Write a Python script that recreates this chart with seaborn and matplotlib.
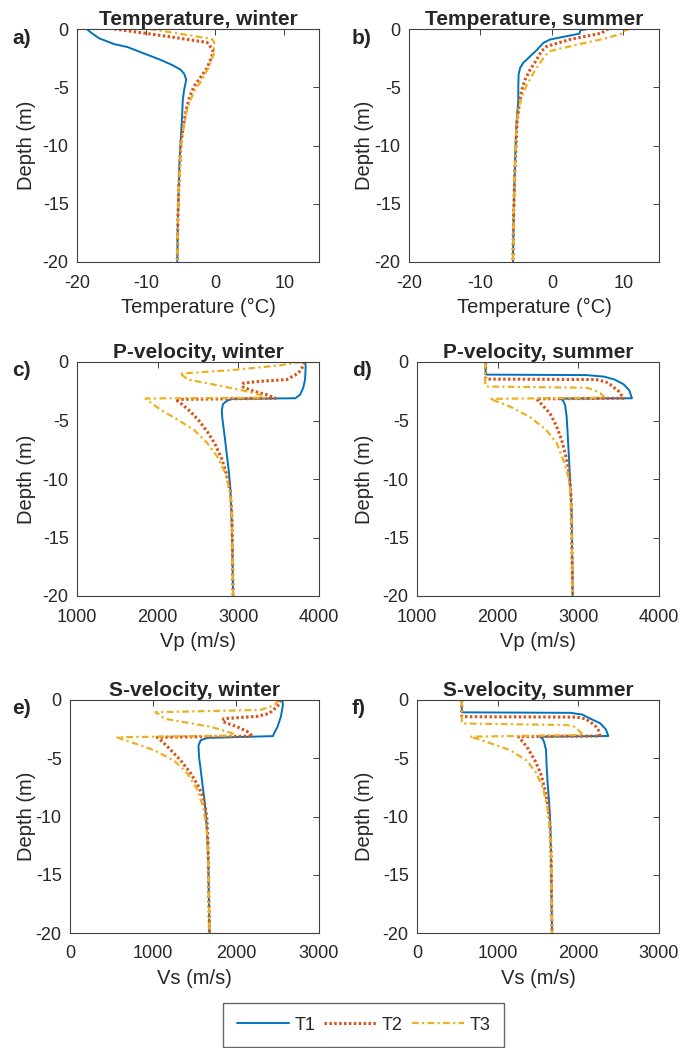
import matplotlib
matplotlib.use("Agg")
import matplotlib.pyplot as plt
import seaborn as sns

# ---- digitised profiles (depth in m, value) ----
# a) temperature, winter
tw_T1_z = [0, -0.3, -0.8, -1.3, -1.55, -2.1, -2.65, -3.1, -3.5, -3.85, -4.35, -5.2, -6.1, -7.5, -9.5, -11.8, -16, -20]
tw_T1 = [-18.6, -18.0, -16.8, -14.6, -12.7, -10.3, -7.9, -6.2, -5.0, -4.5, -4.2, -4.5, -4.7, -4.8, -5.0, -5.2, -5.4, -5.5]
tw_T2_z = [0, -0.55, -1.15, -1.8, -2.35, -3.35, -4.2, -4.95, -5.8, -6.9, -8.4, -9.8, -12.4, -16, -20]
tw_T2 = [-14.6, -7.9, -1.2, -0.35, -0.5, -1.2, -2.2, -3.1, -3.7, -4.2, -4.65, -4.95, -5.2, -5.4, -5.5]
tw_T3_z = [0, -0.85, -1.15, -2.2, -3.35, -4.35, -5.2, -6.1, -7.2, -8.7, -10.1, -12.7, -16, -20]
tw_T3 = [-9.5, -0.5, -0.15, -0.25, -1.0, -1.9, -2.9, -3.6, -4.2, -4.65, -4.95, -5.2, -5.4, -5.5]

# b) temperature, summer
ts_T1_z = [0, -0.1, -0.4, -0.9, -1.2, -1.8, -2.35, -2.9, -3.35, -3.9, -4.9, -6.1, -6.9, -8.1, -9.5, -11.3, -14.7, -20]
ts_T1 = [5.1, 4.0, 3.85, -0.25, -1.2, -2.1, -3.05, -4.0, -4.45, -4.65, -4.7, -4.7, -4.8, -4.95, -5.05, -5.15, -5.3, -5.45]
ts_T2_z = [0, -0.1, -0.35, -0.9, -1.5, -1.9, -2.65, -3.5, -4.35, -5.2, -6.4, -7.8, -9.8, -12.4, -16, -20]
ts_T2 = [7.9, 7.45, 7.0, 2.5, -0.75, -1.45, -2.15, -3.05, -3.75, -4.2, -4.55, -4.85, -5.0, -5.2, -5.35, -5.45]
ts_T3_z = [0, -0.1, -0.35, -0.85, -1.35, -1.9, -2.2, -2.9, -3.8, -4.8, -5.8, -6.9, -8.4, -10.4, -13.3, -20]
ts_T3 = [10.9, 10.25, 10.1, 7.2, 3.5, -0.25, -0.8, -1.65, -2.6, -3.5, -4.2, -4.7, -4.95, -5.1, -5.25, -5.45]

# c) P-velocity, winter
pw_T1_z = [0, -0.4, -1.5, -2.2, -2.8, -3.1, -3.15, -3.35, -3.6, -4.1, -4.7, -5.8, -6.9, -8.1, -9.2, -10.7, -12.9, -15.8, -20]
pw_T1 = [3830, 3835, 3827, 3805, 3765, 3705, 2920, 2850, 2810, 2795, 2800, 2820, 2840, 2860, 2880, 2900, 2915, 2925, 2935]
pw_T2_z = [0, -0.5, -0.95, -1.5, -1.65, -1.8, -2.1, -2.5, -2.8, -3.1, -3.2, -3.6, -4.2, -5.0, -6.0, -7.0, -8.2, -9.5, -11, -13.5, -20]
pw_T2 = [3820, 3790, 3745, 3600, 3270, 3065, 3045, 3190, 3355, 3460, 2220, 2300, 2400, 2510, 2620, 2710, 2790, 2850, 2900, 2922, 2935]
pw_T3_z = [0, -0.3, -0.7, -1.0, -1.05, -1.25, -1.5, -2.0, -2.5, -2.8, -3.05, -3.12, -3.3, -3.7, -4.1, -4.9, -5.8, -6.9, -8.1, -9.5, -11.2, -13.5, -20]
pw_T3 = [3780, 3500, 2900, 2270, 2290, 2330, 2370, 2750, 3100, 3270, 3330, 1850, 1880, 1960, 2040, 2240, 2450, 2610, 2740, 2840, 2900, 2922, 2935]

# d) P-velocity, summer
ps_T1_z = [0, -1.05, -1.08, -1.12, -1.25, -1.5, -1.9, -2.4, -3.1, -3.13, -3.3, -3.66, -4.66, -5.8, -7.2, -8.7, -10.1, -12.9, -20]
ps_T1 = [1850, 1850, 1880, 3100, 3320, 3450, 3560, 3630, 3665, 2780, 2810, 2835, 2855, 2865, 2876, 2888, 2897, 2917, 2930]
ps_T2_z = [0, -1.42, -1.46, -1.5, -1.7, -1.95, -2.5, -3.1, -3.15, -3.5, -4.4, -5.5, -6.7, -8.1, -9.5, -11.5, -20]
ps_T2 = [1850, 1850, 1890, 3220, 3340, 3400, 3500, 3560, 2480, 2530, 2650, 2730, 2795, 2847, 2888, 2910, 2930]
ps_T3_z = [0, -2.05, -2.1, -2.2, -2.4, -2.65, -3.05, -3.15, -3.4, -3.8, -4.7, -5.8, -6.9, -8.4, -9.8, -11.5, -20]
ps_T3 = [1845, 1845, 1880, 3100, 3200, 3270, 3330, 1905, 2000, 2150, 2400, 2600, 2730, 2815, 2875, 2910, 2930]

# e) S-velocity, winter
sw_T1_z = [0, -0.45, -1.45, -2.3, -3.0, -3.1, -3.25, -3.45, -3.9, -4.9, -6.0, -7.2, -8.3, -9.7, -11.8, -14.3, -20]
sw_T1 = [2560, 2565, 2540, 2500, 2450, 2445, 1655, 1575, 1548, 1555, 1575, 1595, 1615, 1635, 1655, 1667, 1680]
sw_T2_z = [0, -0.55, -1.15, -1.4, -1.6, -1.85, -2.3, -2.7, -3.1, -3.2, -3.5, -4.0, -5.2, -6.3, -7.5, -8.6, -10.0, -12.3, -20]
sw_T2 = [2540, 2500, 2400, 2260, 1855, 1835, 2015, 2135, 2200, 1050, 1100, 1175, 1335, 1455, 1555, 1615, 1647, 1663, 1680]
sw_T3_z = [0, -0.45, -0.85, -1.05, -1.3, -1.6, -2.3, -2.85, -3.05, -3.2, -3.35, -3.7, -4.3, -5.2, -6.3, -7.7, -9.2, -10.9, -12.9, -20]
sw_T3 = [2520, 2460, 2300, 1030, 1090, 1135, 1695, 1955, 1975, 570, 620, 770, 1010, 1255, 1415, 1535, 1605, 1643, 1663, 1680]

# f) S-velocity, summer
ss_T1_z = [0, -1.02, -1.06, -1.1, -1.25, -1.45, -2.0, -2.5, -3.09, -3.15, -3.35, -3.6, -4.3, -5.7, -7.2, -8.6, -10.0, -12.9, -20]
ss_T1 = [555, 555, 575, 1900, 2050, 2105, 2270, 2340, 2372, 1525, 1560, 1575, 1600, 1607, 1620, 1636, 1649, 1661, 1674]
ss_T2_z = [0, -1.4, -1.43, -1.47, -1.6, -1.86, -2.3, -2.6, -3.09, -3.15, -3.5, -4.0, -5.2, -6.3, -7.7, -9.2, -10.9, -13, -20]
ss_T2 = [555, 555, 595, 1980, 2080, 2145, 2220, 2250, 2270, 1256, 1300, 1360, 1463, 1533, 1587, 1628, 1649, 1661, 1674]
ss_T3_z = [0, -1.98, -2.02, -2.15, -2.3, -2.58, -3.0, -3.15, -3.4, -3.7, -4.3, -5.2, -6.3, -7.7, -9.2, -11.2, -13, -20]
ss_T3 = [555, 555, 600, 1855, 1950, 2000, 2062, 657, 780, 905, 1153, 1360, 1483, 1566, 1616, 1649, 1661, 1674]

series_names = ["T1", "T2", "T3"]
colors = ["#0072BD", "#D95319", "#EDB120"]
styles = ["-", (0, (0.8, 0.8)), (0, (3, 1.5, 1, 1.5))]
widths = [1.4, 2.2, 1.6]

sns.set_style("white")
plt.rcParams["font.family"] = ["Liberation Sans", "DejaVu Sans"]

fig = plt.figure(figsize=(6.83, 10.48), dpi=100)
W, H = 683, 1048


def add_axes(x0, x1, y0, y1):
    return fig.add_axes([x0 / W, 1 - y1 / H, (x1 - x0) / W, (y1 - y0) / H])


panels = [
    # letter, title, xlabel, data, xlim, xticks, box(px)
    ("a)", "Temperature, winter", "Temperature (°C)",
     [(tw_T1, tw_T1_z), (tw_T2, tw_T2_z), (tw_T3, tw_T3_z)], (-20, 15), [-20, -10, 0, 10], (77, 319, 29, 262)),
    ("b)", "Temperature, summer", "Temperature (°C)",
     [(ts_T1, ts_T1_z), (ts_T2, ts_T2_z), (ts_T3, ts_T3_z)], (-20, 15), [-20, -10, 0, 10], (409, 659, 29, 262)),
    ("c)", "P-velocity, winter", "Vp (m/s)",
     [(pw_T1, pw_T1_z), (pw_T2, pw_T2_z), (pw_T3, pw_T3_z)], (1000, 4000), [1000, 2000, 3000, 4000], (77, 319, 362, 596)),
    ("d)", "P-velocity, summer", "Vp (m/s)",
     [(ps_T1, ps_T1_z), (ps_T2, ps_T2_z), (ps_T3, ps_T3_z)], (1000, 4000), [1000, 2000, 3000, 4000], (417, 659, 362, 596)),
    ("e)", "S-velocity, winter", "Vs (m/s)",
     [(sw_T1, sw_T1_z), (sw_T2, sw_T2_z), (sw_T3, sw_T3_z)], (0, 3000), [0, 1000, 2000, 3000], (70, 319, 700, 933)),
    ("f)", "S-velocity, summer", "Vs (m/s)",
     [(ss_T1, ss_T1_z), (ss_T2, ss_T2_z), (ss_T3, ss_T3_z)], (0, 3000), [0, 1000, 2000, 3000], (417, 659, 700, 933)),
]

handles = None
for letter, title, xlabel, data, xlim, xticks, box in panels:
    x0, x1, y0, y1 = box
    ax = add_axes(x0, x1, y0, y1)
    for (vals, depth), name, c, ls, lw in zip(data, series_names, colors, styles, widths):
        sns.lineplot(x=vals, y=depth, sort=False, estimator=None, ax=ax,
                     color=c, linestyle=ls, linewidth=lw, label=name)
    ax.get_legend().remove()
    if handles is None:
        handles, labels = ax.get_legend_handles_labels()

    ax.set_xlim(*xlim)
    ax.set_ylim(-20, 0)
    ax.set_xticks(xticks)
    ax.set_yticks([-20, -15, -10, -5, 0])
    ax.set_yticklabels(["-20", "-15", "-10", "-5", "0"])
    ax.set_xticklabels([str(t) for t in xticks])
    ax.tick_params(direction="in", length=4, width=0.7, colors="#404040",
                   labelcolor="#262626", labelsize=13, top=True, right=True)
    ax.tick_params(axis="x", pad=9)
    ax.tick_params(axis="y", pad=6)
    for sp in ax.spines.values():
        sp.set_visible(True)
        sp.set_color("#404040")
        sp.set_linewidth(0.8)

    ax.set_title(title, fontsize=15, fontweight="bold", pad=3)
    ax.set_xlabel(xlabel, fontsize=14.5, color="#262626")
    ax.set_ylabel("Depth (m)", fontsize=14.5, color="#262626")
    ax.xaxis.set_label_coords(0.5, -0.155)
    ax.yaxis.set_label_coords((36 - x0) / (x1 - x0) if x0 < 200 else (374 - x0) / (x1 - x0), 0.5)

    lx = 12 if x0 < 200 else 352
    fig.text(lx / W, 1 - (y0 + 9) / H, letter, fontsize=15, fontweight="bold",
             ha="left", va="center")

fig.legend(handles, labels, loc="upper left", bbox_to_anchor=(223 / W, 1 - 1003 / H),
           ncol=3, fontsize=13, frameon=True, fancybox=False, edgecolor="#404040",
           handlelength=2.9, handletextpad=0.3, columnspacing=0.5, borderpad=0.75,
           borderaxespad=0)

fig.savefig("out.png", dpi=100)
